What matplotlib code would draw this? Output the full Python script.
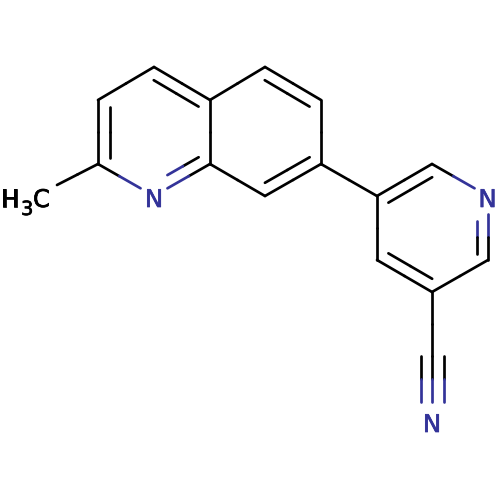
import matplotlib
matplotlib.use('Agg')
import matplotlib.pyplot as plt
import matplotlib.patheffects as pe
import numpy as np

# atom positions
atom_names = ['CH3', 'C2', 'C3', 'C4', 'C4a', 'C5', 'C6', 'C7', 'C8', 'C8a', 'N1',
              'C3p', 'C2p', 'Np', 'C6p', 'C5p', 'C4p', 'CN', 'NN']
atom_x = [57, 98, 98, 154, 210, 265, 321, 321, 265, 210, 154,
          377, 432, 488, 488, 432, 377, 432, 432]
atom_y = [185, 164, 100, 67, 100, 67, 100, 164, 196, 164, 196,
          196, 164, 196, 260, 292, 260, 356, 420]

single_bonds = [('CH3', 'C2'), ('C3', 'C4'), ('C4a', 'C5'), ('C6', 'C7'), ('C8', 'C8a'),
                ('C4a', 'C8a'), ('C7', 'C3p'), ('C3p', 'C4p'), ('C2p', 'Np'),
                ('C6p', 'C5p'), ('C5p', 'CN'), ('C2', 'N1')]
# second bond, third item is the ring centre the inner line sits towards
double_bonds = [('C2', 'C3', 'c1'), ('C4', 'C4a', 'c1'), ('C8a', 'N1', 'c1'),
                ('C5', 'C6', 'c2'), ('C7', 'C8', 'c2'), ('C3p', 'C2p', 'c3'),
                ('Np', 'C6p', 'c3'), ('C5p', 'C4p', 'c3')]
ring_centres = {'c1': (154, 132), 'c2': (265, 132), 'c3': (432, 228)}

bond_colour = '#000000'
n_colour = '#333399'
lw = 1.95
gap = 11.5
shrink = 6.5
clip_diag = 15.5
clip_vert = 18

pos = dict(zip(atom_names, zip(atom_x, atom_y)))
hetero = {'N1', 'Np', 'NN'}

fig = plt.figure(figsize=(5, 5), dpi=100)
ax = fig.add_axes([0, 0, 1, 1])
ax.set_xlim(0, 500)
ax.set_ylim(500, 0)
ax.axis('off')


def clip(p, q, name_p, name_q):
    # cut a segment back from the N labels, colour change goes halfway along what is left
    p = np.array(p, float)
    q = np.array(q, float)
    u = (q - p) / np.linalg.norm(q - p)
    d = clip_vert if abs(u[0]) < 0.01 else clip_diag
    if name_p in hetero:
        p = p + u * d
    if name_q in hetero:
        q = q - u * d
    return p, q


def seg(p, q, name_p, name_q):
    a, b = clip(p, q, name_p, name_q)
    mid = (a + b) / 2
    c1 = n_colour if name_p in hetero else bond_colour
    c2 = n_colour if name_q in hetero else bond_colour
    ax.plot([a[0], mid[0]], [a[1], mid[1]], color=c1, lw=lw, solid_capstyle='round')
    ax.plot([mid[0], b[0]], [mid[1], b[1]], color=c2, lw=lw, solid_capstyle='round')


def label(x, y, s, colour, size=17.5, ha='center', va='center_baseline'):
    t = ax.text(x, y, s, color=colour, fontsize=size, ha=ha, va=va)
    t.set_path_effects([pe.withStroke(linewidth=0.5, foreground=colour)])


for a, b in single_bonds:
    seg(pos[a], pos[b], a, b)

for a, b, c in double_bonds:
    p = np.array(pos[a], float)
    q = np.array(pos[b], float)
    seg(p, q, a, b)
    u = (q - p) / np.linalg.norm(q - p)
    n = np.array([-u[1], u[0]])
    if np.dot(np.array(ring_centres[c]) - p, n) < 0:
        n = -n
    seg(p + n * gap + u * shrink, q + n * gap - u * shrink, a, b)

# nitrile
p = np.array(pos['CN'], float)
q = np.array(pos['NN'], float)
for off in [-11.5, 0, 11.5]:
    seg(p + [off, 0], q + [off, 0], 'CN', 'NN')

label(154, 197.5, 'N', n_colour)
label(487.5, 197.5, 'N', n_colour)
label(432, 422.5, 'N', n_colour)
label(1, 207, 'H', 'black', ha='left', va='baseline')
label(21, 215, '3', 'black', size=14, ha='left', va='baseline')
label(33, 207, 'C', 'black', ha='left', va='baseline')

fig.savefig('out.png', dpi=100)
